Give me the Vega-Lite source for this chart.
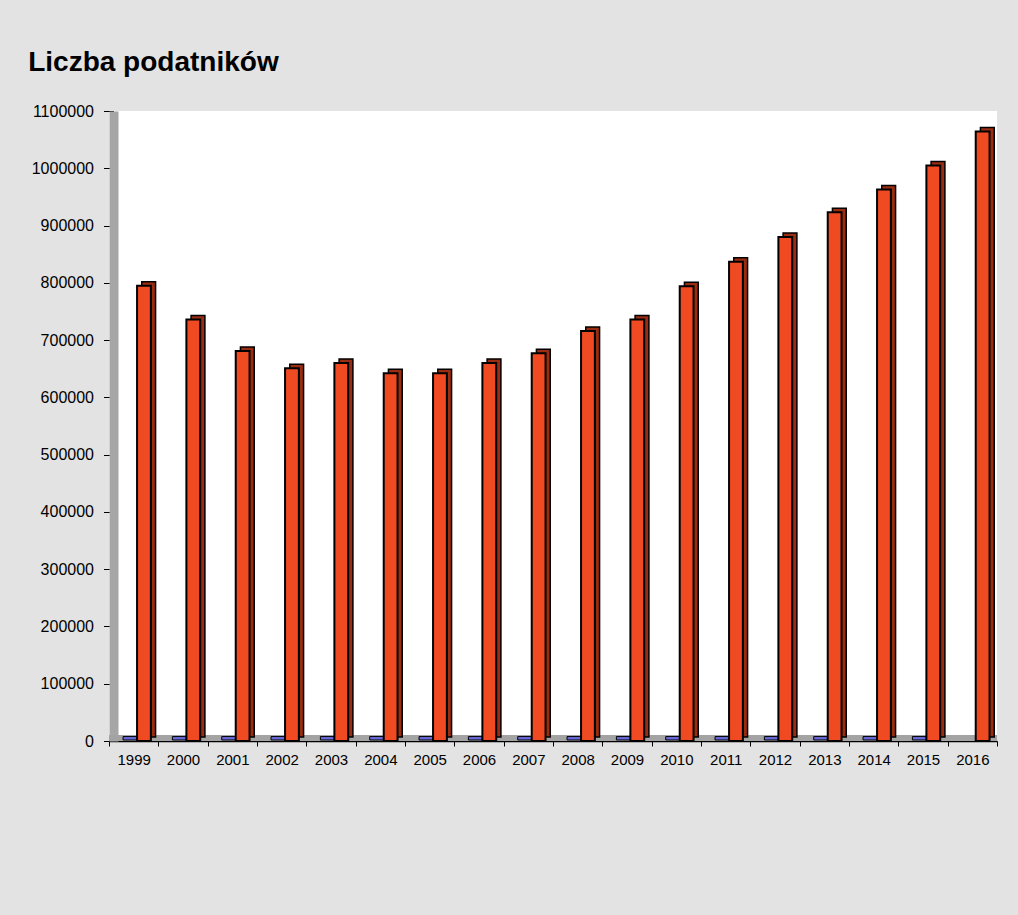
{
  "$schema": "https://vega.github.io/schema/vega-lite/v6.json",
  "width": 888,
  "height": 630,
  "autosize": {"type": "none"},
  "padding": {"left": 109, "top": 111, "right": 21, "bottom": 174},
  "background": "#e3e3e3",
  "title": {
    "text": "Liczba podatników",
    "anchor": "start",
    "frame": "bounds",
    "font": "Liberation Sans",
    "fontSize": 28,
    "fontWeight": "bold",
    "color": "#000000",
    "offset": 26,
    "dx": -3
  },
  "config": {
    "view": {"fill": "white", "stroke": null},
    "axisX": {
      "title": null,
      "labelAngle": 0,
      "labelFont": "Liberation Sans",
      "labelFontSize": 15,
      "labelColor": "#000000",
      "labelPadding": 6,
      "tickBand": "extent",
      "tickSize": 5,
      "tickColor": "#000000",
      "domainColor": "#000000",
      "domainWidth": 1.5
    },
    "axisY": {
      "title": null,
      "grid": false,
      "format": "d",
      "labelFont": "Liberation Sans",
      "labelFontSize": 16,
      "labelColor": "#000000",
      "labelPadding": 10,
      "tickSize": 10,
      "tickColor": "#000000",
      "offset": -4.5,
      "domainColor": "#a6a6a6",
      "domainWidth": 9
    }
  },
  "data": {
    "values": [
      {"year": "1999", "series": "b", "value": 6000},
      {"year": "2000", "series": "b", "value": 6000},
      {"year": "2001", "series": "b", "value": 6000},
      {"year": "2002", "series": "b", "value": 6000},
      {"year": "2003", "series": "b", "value": 6000},
      {"year": "2004", "series": "b", "value": 6000},
      {"year": "2005", "series": "b", "value": 6000},
      {"year": "2006", "series": "b", "value": 6000},
      {"year": "2007", "series": "b", "value": 6000},
      {"year": "2008", "series": "b", "value": 6000},
      {"year": "2009", "series": "b", "value": 6000},
      {"year": "2010", "series": "b", "value": 6000},
      {"year": "2011", "series": "b", "value": 6000},
      {"year": "2012", "series": "b", "value": 6000},
      {"year": "2013", "series": "b", "value": 6000},
      {"year": "2014", "series": "b", "value": 6000},
      {"year": "2015", "series": "b", "value": 6000},
      {"year": "1999", "series": "r", "value": 795000},
      {"year": "2000", "series": "r", "value": 736000},
      {"year": "2001", "series": "r", "value": 681000},
      {"year": "2002", "series": "r", "value": 651000},
      {"year": "2003", "series": "r", "value": 660000},
      {"year": "2004", "series": "r", "value": 642000},
      {"year": "2005", "series": "r", "value": 642000},
      {"year": "2006", "series": "r", "value": 660000},
      {"year": "2007", "series": "r", "value": 677000},
      {"year": "2008", "series": "r", "value": 716000},
      {"year": "2009", "series": "r", "value": 736000},
      {"year": "2010", "series": "r", "value": 794000},
      {"year": "2011", "series": "r", "value": 837000},
      {"year": "2012", "series": "r", "value": 880000},
      {"year": "2013", "series": "r", "value": 923000},
      {"year": "2014", "series": "r", "value": 963000},
      {"year": "2015", "series": "r", "value": 1005000},
      {"year": "2016", "series": "r", "value": 1064000}
    ]
  },
  "layer": [
    {
      "mark": {"type": "rule", "color": "#a3a3a3", "strokeWidth": 6, "yOffset": -3},
      "encoding": {
        "y": {"datum": 0, "type": "quantitative", "scale": {"domain": [0, 1100000], "nice": false},
          "axis": {"values": [0, 100000, 200000, 300000, 400000, 500000, 600000, 700000, 800000, 900000, 1000000, 1100000]}}
      }
    },
    {
      "transform": [{"filter": "datum.series == 'b'"}],
      "mark": {"type": "bar", "fill": "#6b6bdc", "stroke": "#000000", "strokeWidth": 1, "width": {"band": 0.28}, "xOffset": -3.7, "yOffset": -1, "y2Offset": -1},
      "encoding": {
        "x": {"field": "year", "type": "ordinal", "scale": {"paddingInner": 0, "paddingOuter": 0}},
        "y": {"field": "value", "type": "quantitative", "scale": {"domain": [0, 1100000], "nice": false},
          "axis": {"values": [0, 100000, 200000, 300000, 400000, 500000, 600000, 700000, 800000, 900000, 1000000, 1100000]}}
      }
    },
    {
      "transform": [{"filter": "datum.series == 'r'"}],
      "mark": {"type": "bar", "fill": "#9a2c12", "stroke": "#000000", "strokeWidth": 1.5, "width": {"band": 0.28}, "xOffset": 15, "yOffset": -4, "y2Offset": -4},
      "encoding": {
        "x": {"field": "year", "type": "ordinal", "scale": {"paddingInner": 0, "paddingOuter": 0}},
        "y": {"field": "value", "type": "quantitative", "scale": {"domain": [0, 1100000], "nice": false},
          "axis": {"values": [0, 100000, 200000, 300000, 400000, 500000, 600000, 700000, 800000, 900000, 1000000, 1100000]}}
      }
    },
    {
      "transform": [{"filter": "datum.series == 'r'"}],
      "mark": {"type": "bar", "fill": "#f04a22", "stroke": "#000000", "strokeWidth": 2, "width": {"band": 0.28}, "xOffset": 10.3},
      "encoding": {
        "x": {"field": "year", "type": "ordinal", "scale": {"paddingInner": 0, "paddingOuter": 0}},
        "y": {"field": "value", "type": "quantitative", "scale": {"domain": [0, 1100000], "nice": false},
          "axis": {"values": [0, 100000, 200000, 300000, 400000, 500000, 600000, 700000, 800000, 900000, 1000000, 1100000]}}
      }
    }
  ]
}
